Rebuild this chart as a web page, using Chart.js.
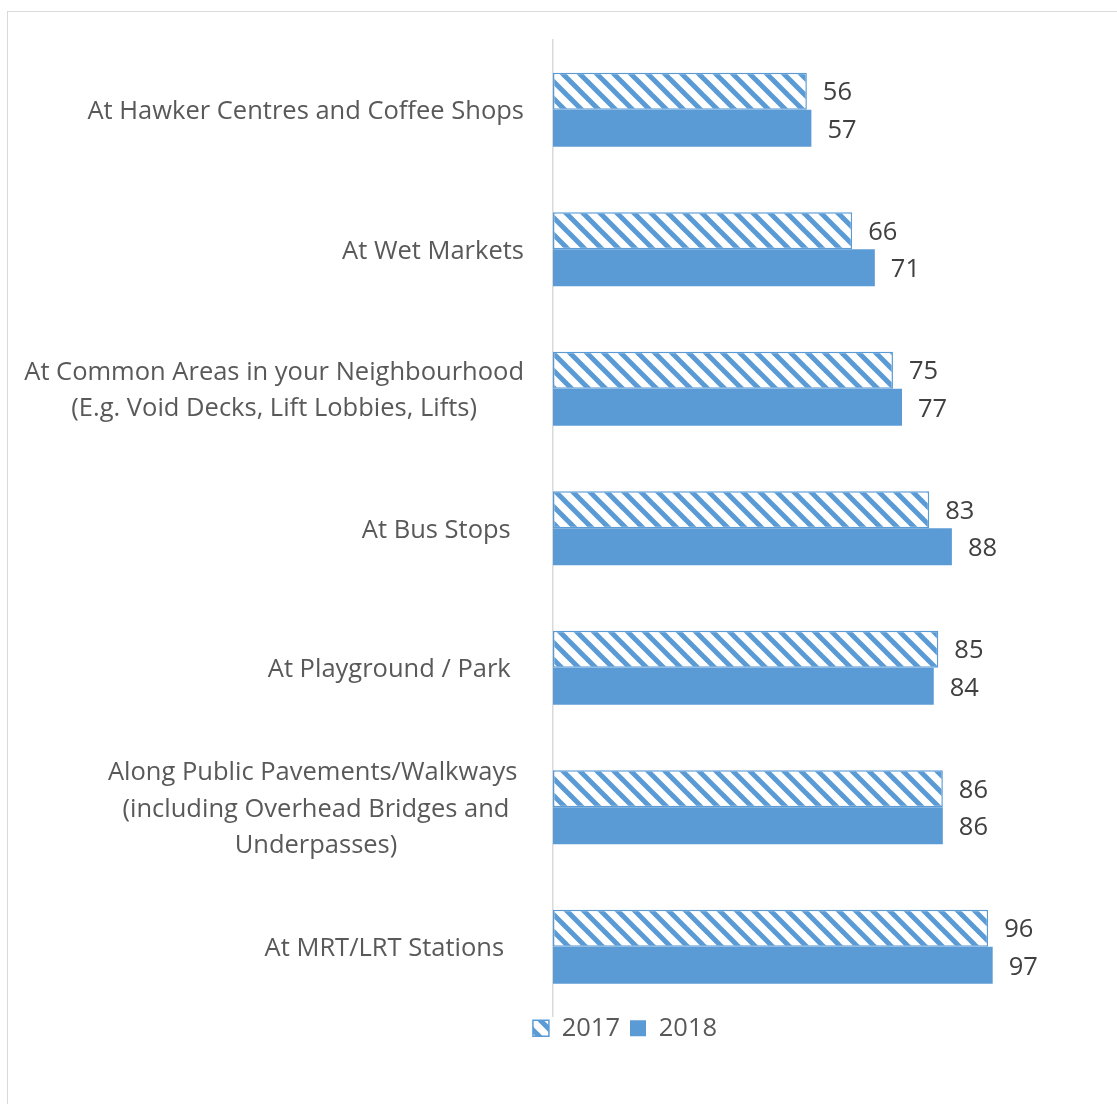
<!DOCTYPE html>
<html>
<head>
<meta charset="utf-8">
<script src="https://cdn.jsdelivr.net/npm/chart.js@4.4.1/dist/chart.umd.min.js"></script>
<style>
  html, body { margin: 0; padding: 0; background: #fff; overflow: hidden; }
  #frame { position: absolute; left: 7px; top: 11px; width: 1234px; height: 1100px; border: 1px solid #d9d9d9; }
</style>
</head>
<body>
<div id="frame"><canvas id="chart" width="1234" height="1100"></canvas></div>
<script>
// category labels (one entry per line), top to bottom
const categories = [
    ['At Hawker Centres and Coffee Shops'],
    ['At Wet Markets'],
    ['At Common Areas in your Neighbourhood', '(E.g. Void Decks, Lift Lobbies, Lifts)'],
    ['At Bus Stops  '],
    ['At Playground / Park  '],
    ['Along Public Pavements/Walkways ', '(including Overhead Bridges and', 'Underpasses)'],
    ['At MRT/LRT Stations   ']
];
const seriesNames = ['2017', '2018'];
const values2017 = [56, 66, 75, 83, 85, 86, 96];
const values2018 = [57, 71, 77, 88, 84, 86, 97];

const BLUE = '#5B9BD5';
const FONT = '"Open Sans", "Noto Sans", sans-serif';
const FONT_SIZE = 25.5;

const canvas = document.getElementById('chart');
const ctx = canvas.getContext('2d');

// wide downward diagonal hatch
function makeHatch(color) {
    const s = 17;
    const c = document.createElement('canvas');
    c.width = s;
    c.height = s;
    const g = c.getContext('2d');
    g.fillStyle = '#ffffff';
    g.fillRect(0, 0, s, s);
    g.strokeStyle = color;
    g.lineWidth = 5;
    [-1, 0, 1].forEach(k => {
        g.beginPath();
        g.moveTo(-3, k * s - 3);
        g.lineTo(s + 3, k * s + s + 3);
        g.stroke();
    });
    return ctx.createPattern(c, 'repeat');
}

const labelPlugin = {
    id: 'textLabels',
    afterLayout(chart) {
        // pull the legend row up under the plot
        const lg = chart.legend;
        const h = lg.bottom - lg.top;
        lg.top = chart.chartArea.bottom - 11;
        lg.bottom = lg.top + h;
    },
    afterDraw(chart) {
        const c = chart.ctx;
        const yScale = chart.scales.y;
        c.save();
        c.font = FONT_SIZE + 'px ' + FONT;
        c.textBaseline = 'middle';

        // category labels: block right-aligned, lines centred inside the block
        c.fillStyle = '#595959';
        c.textAlign = 'center';
        const right = yScale.right - 29;
        categories.forEach((lines, i) => {
            const w = Math.max(...lines.map(t => c.measureText(t).width));
            const cx = right - w / 2;
            const cy = yScale.getPixelForValue(i) + 2;
            lines.forEach((t, j) => {
                c.fillText(t, cx, cy + (j - (lines.length - 1) / 2) * 36.5);
            });
        });

        // value labels at the bar ends
        c.fillStyle = '#404040';
        c.textAlign = 'left';
        chart.data.datasets.forEach((ds, di) => {
            chart.getDatasetMeta(di).data.forEach((bar, i) => {
                c.fillText(String(ds.data[i]), bar.x + 16, bar.y + 2);
            });
        });
        c.restore();
    }
};

new Chart(ctx, {
    type: 'bar',
    data: {
        labels: categories.map(l => l.join(' ').trim()),
        datasets: [
            {
                label: seriesNames[0],
                data: values2017,
                backgroundColor: makeHatch(BLUE),
                borderColor: BLUE,
                borderWidth: 1.5,
                borderSkipped: false
            },
            {
                label: seriesNames[1],
                data: values2018,
                backgroundColor: BLUE,
                borderWidth: 0
            }
        ]
    },
    options: {
        indexAxis: 'y',
        responsive: false,
        animation: false,
        categoryPercentage: 0.531,
        barPercentage: 1.0,
        layout: { padding: { top: 28, bottom: 50, left: 0, right: 0 } },
        scales: {
            x: { display: false, min: 0, max: 152 },
            y: {
                type: 'category',
                grid: { display: false, drawTicks: false },
                border: { display: true, color: '#d9d9d9', width: 1.5 },
                ticks: { display: false },
                afterFit(scale) { scale.width = 545; }
            }
        },
        plugins: {
            tooltip: { enabled: false },
            legend: {
                position: 'bottom',
                labels: {
                    font: { family: FONT, size: FONT_SIZE },
                    color: '#595959',
                    boxWidth: 16,
                    boxHeight: 16,
                    padding: 10
                }
            }
        }
    },
    plugins: [labelPlugin]
});
</script>
</body>
</html>
